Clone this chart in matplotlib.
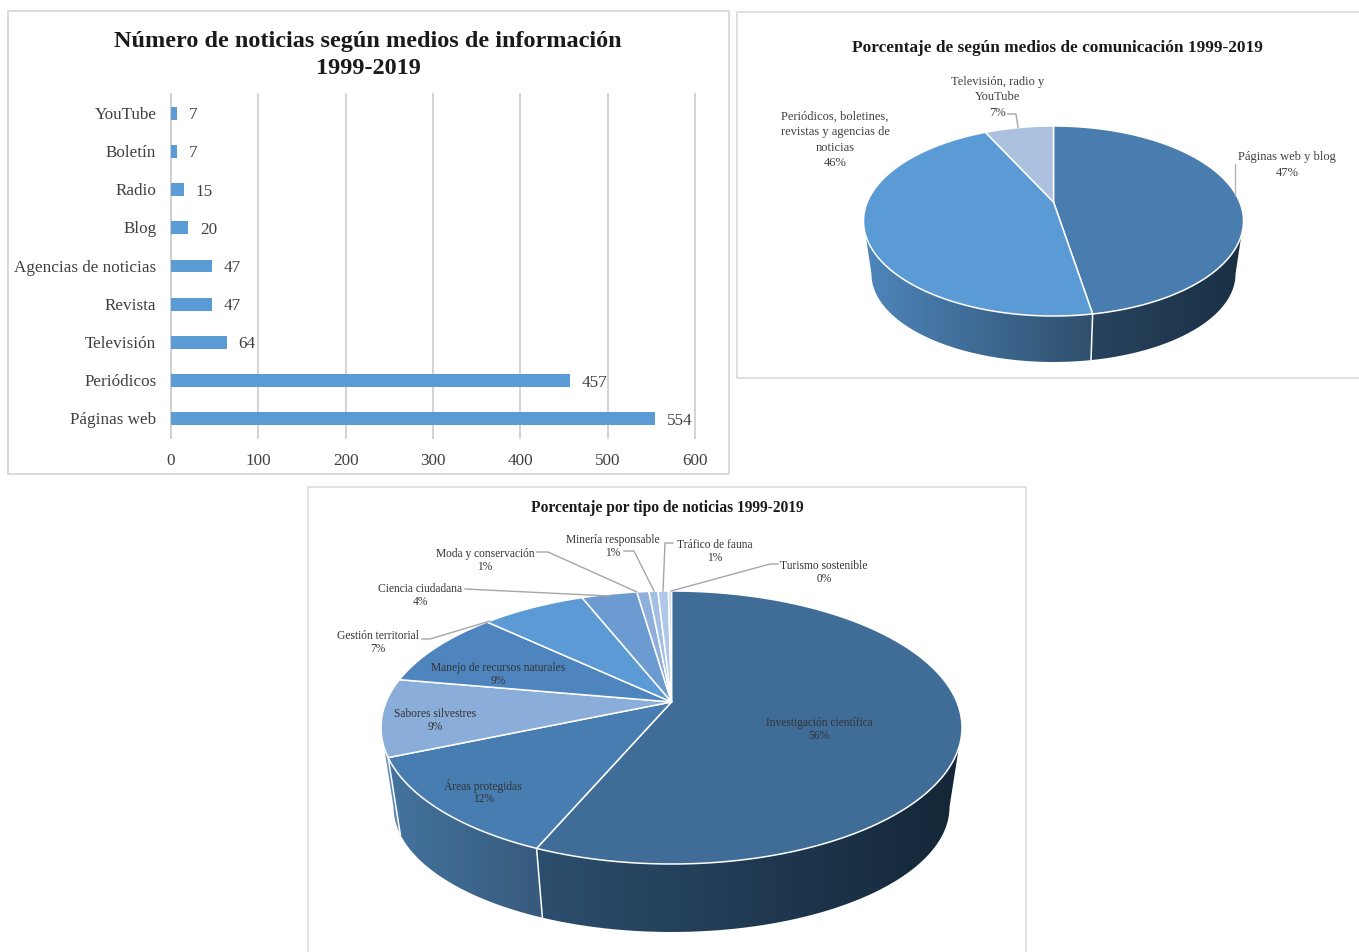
import numpy as np
import matplotlib
matplotlib.use('Agg')
import matplotlib.pyplot as plt
from matplotlib.colors import LinearSegmentedColormap
from matplotlib.patches import Polygon
from matplotlib.transforms import ScaledTranslation

W, H = 1359, 953
plt.rcParams['font.family'] = ['Liberation Serif', 'DejaVu Serif']

# datos
medios = ['Páginas web', 'Periódicos', 'Televisión', 'Revista', 'Agencias de noticias',
          'Blog', 'Radio', 'Boletín', 'YouTube']
noticias = [554, 457, 64, 47, 47, 20, 15, 7, 7]
ticks_noticias = [0, 100, 200, 300, 400, 500, 600]

grupos_medios = ['Páginas web y blog', 'Periódicos, boletines,\nrevistas y agencias de\nnoticias',
                 'Televisión, radio y\nYouTube']
pct_medios = [47.3, 45.6, 7.1]

tipos = ['Investigación científica', 'Áreas protegidas', 'Sabores silvestres',
         'Manejo de recursos naturales', 'Gestión territorial', 'Ciencia ciudadana',
         'Moda y conservación', 'Minería responsable', 'Tráfico de fauna', 'Turismo sostenible']
pct_tipos = [56.4, 12.2, 9.2, 9.2, 7.0, 3.7, 0.8, 0.6, 0.7, 0.2]

colores_medios = ['#4A7DAF', '#5B9BD5', '#ACC0E0']
colores_tipos = ['#3F6D98', '#477DB0', '#8AADD9', '#4F85BF', '#5B9AD5',
                 '#6C9BD2', '#8FAEDB', '#A3BEE3', '#B0C8E8', '#C5D6EE']


def ejes_px(x0, y0, x1, y1):
    return fig.add_axes([x0 / W, 1 - y1 / H, (x1 - x0) / W, (y1 - y0) / H])


def proyectar(theta, a):
    # perspectiva: el circulo sigue siendo circulo, pero el centro sube a (0, a)
    u, v = np.sin(theta), np.cos(theta)
    den = 1 + a * v
    return u * np.sqrt(1 - a ** 2) / den, (v + a) / den


def pastel_3d(caja, valores, colores, degradados, a, d, sx, sy):
    cx, cy, rx, ry, fondo = caja
    ax = ejes_px(cx - rx - 6, cy - ry - 6, cx + rx + 6, fondo + 6)
    ax.axis('off')
    xlim = (-1 - 6 / rx, 1 + 6 / rx)
    ylim = (-(fondo + 6 - cy) / ry, 1 + 6 / ry)
    limites = np.cumsum([0] + list(valores)) / np.sum(valores) * 2 * np.pi

    # paredes: solo la parte delantera del pastel
    t_frente = np.arccos(-a)
    for i, (c1, c2) in degradados.items():
        t0 = max(limites[i], t_frente)
        t1 = min(limites[i + 1], 2 * np.pi - t_frente)
        if t1 <= t0:
            continue
        xs, ys = proyectar(np.linspace(t0, t1, 150), a)
        xb, yb = sx * xs, sy * ys - d
        poli = Polygon(np.r_[np.c_[xs, ys], np.c_[xb, yb][::-1]], closed=True, transform=ax.transData)
        todos = np.r_[xs, xb]
        # el degradado va de izquierda a derecha, como en el original
        cmap = LinearSegmentedColormap.from_list('pared', [c1, c2])
        im = ax.imshow(np.linspace(0, 1, 256)[None, :], cmap=cmap, aspect='auto',
                       extent=(todos.min(), todos.max(), ylim[0], 1),
                       interpolation='bilinear', zorder=1)
        im.set_clip_path(poli)
        if limites[i + 1] < 2 * np.pi - t_frente:
            ax.plot([xs[-1], xb[-1]], [ys[-1], yb[-1]], color='white', lw=1.1, zorder=2)

    # cara superior
    for i, col in enumerate(colores):
        t = np.linspace(limites[i], limites[i + 1], 200)
        xs, ys = proyectar(t, a)
        ax.fill(np.r_[0, xs], np.r_[a, ys], facecolor=col, edgecolor='white', lw=1.1,
                joinstyle='round', zorder=3)
    ax.set_xlim(xlim)
    ax.set_ylim(ylim)
    return ax


fig = plt.figure(figsize=(W / 100, H / 100), dpi=100, facecolor='white')

# capa en pixeles para marcos, lineas guia y textos
capa = fig.add_axes([0, 0, 1, 1], zorder=5)
capa.set_xlim(0, W)
capa.set_ylim(H, 0)
capa.axis('off')
capa.patch.set_alpha(0)

gris_marco = '#DADADA'
capa.plot([8, 729, 729, 8, 8], [12, 12, 475, 475, 12], color=gris_marco, lw=1.4)
capa.plot([1359, 737, 737, 1359], [13, 13, 379, 379], color=gris_marco, lw=1.2)
capa.plot([308, 308, 1026, 1026], [953, 488, 488, 953], color=gris_marco, lw=1.1)

# barras
ax1 = ejes_px(171, 95, 695, 439)
y = np.arange(len(medios))
ax1.barh(y, noticias, height=0.34, color='#5B9BD5', zorder=3)
ax1.set_xlim(0, 600)
ax1.set_ylim(-0.5, len(medios) - 0.5)
ax1.set_xticks(ticks_noticias)
ax1.set_yticks(y, medios, va='center_baseline')
ax1.grid(axis='x', color='#D0D0D0', lw=1.3, zorder=0, clip_on=False)
for s in ['top', 'right', 'bottom']:
    ax1.spines[s].set_visible(False)
ax1.spines['left'].set_color('#D0D0D0')
ax1.spines['left'].set_linewidth(1.3)
ax1.tick_params(axis='both', length=0, labelsize=12.3, labelcolor='#404040')
ax1.tick_params(axis='y', pad=10.5)
ax1.tick_params(axis='x', pad=10)
subir = ScaledTranslation(0, 1.5 / 100, fig.dpi_scale_trans)
for lab in ax1.get_yticklabels():
    lab.set_transform(lab.get_transform() + subir)
for yi, v in zip(y, noticias):
    ax1.annotate(str(v), (v, yi), xytext=(8.5, 0.7), textcoords='offset points', va='center_baseline',
                 fontsize=12.3, color='#404040')
capa.text(368, 42, 'Número de noticias según medios de información', ha='center', va='center',
          fontsize=17.5, fontweight='bold', color='#1a1a1a')
capa.text(368, 69, '1999-2019', ha='center', va='center', fontsize=17.5, fontweight='bold',
          color='#1a1a1a')

# pastel de medios
pastel_3d((1053.5, 222, 190, 95, 364), pct_medios, colores_medios,
          {0: ('#27445E', '#1A2F44'), 1: ('#4E86BC', '#2F4F6C')},
          a=0.2, d=0.558, sx=0.958, sy=0.926)
capa.text(1057, 48.5, 'Porcentaje de según medios de comunicación 1999-2019', ha='center', va='center',
          fontsize=12.4, fontweight='bold', color='#1a1a1a')
pos_medios = [(1287, 157), (835, 117), (998, 82)]
for nombre, p, (px, py) in zip(grupos_medios, pct_medios, pos_medios):
    lineas = nombre.split('\n') + [f'{p:.0f}%']
    for k, t in enumerate(lineas):
        capa.text(px, py + k * 15.5, t, ha='center', va='center', fontsize=9, color='#404040')
capa.plot([1235, 1235], [165, 196], color='#B5B5B5', lw=1)
capa.plot([1008, 1016, 1018], [115, 115, 128], color='#A6A6A6', lw=1)

# pastel por tipo
pastel_3d((671.5, 728.5, 290.5, 136.5, 934), pct_tipos, colores_tipos,
          {0: ('#2C4E6E', '#142637'), 1: ('#44749F', '#375A7C'), 2: ('#6D93BC', '#5F86B0')},
          a=0.187, d=0.582, sx=0.957, sy=0.916)
capa.text(667, 508.5, 'Porcentaje por tipo de noticias 1999-2019', ha='center', va='center',
          fontsize=11.2, fontweight='bold', color='#1a1a1a')
pos_tipos = [(819, 723), (483, 786), (435, 714), (498, 668), (378, 636),
             (420, 589), (485, 554), (613, 540), (715, 545), (824, 566)]
for nombre, p, (px, py) in zip(tipos, pct_tipos, pos_tipos):
    capa.text(px, py, nombre, ha='center', va='center', fontsize=8.3, color='#333333')
    capa.text(px, py + 13, f'{p:.0f}%', ha='center', va='center', fontsize=8.3, color='#333333')
guias = [([422, 430, 490], [640, 640, 622]),
         ([465, 610], [590, 597]),
         ([537, 548, 637], [553, 553, 593]),
         ([624, 634, 654], [552, 552, 592]),
         ([673, 665, 663], [544, 544, 592]),
         ([778, 770, 671], [565, 565, 592])]
for gx, gy in guias:
    capa.plot(gx, gy, color='#A6A6A6', lw=1)

fig.savefig('out.png', dpi=100)
